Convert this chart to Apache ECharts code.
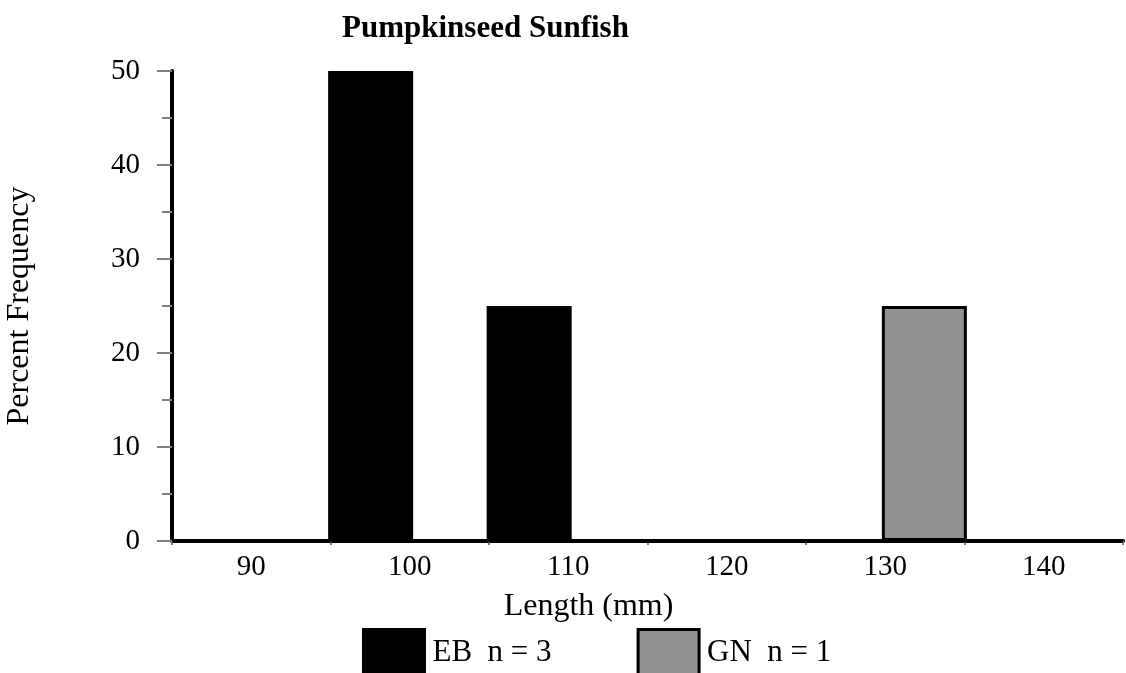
<!DOCTYPE html>
<html>
<head>
<meta charset="utf-8">
<script src="https://cdn.jsdelivr.net/npm/echarts@6/dist/echarts.min.js"></script>
<style>html,body{margin:0;padding:0;background:#fff}#c{width:1126px;height:673px}</style>
</head>
<body>
<div id="c"></div>
<script>
const categories = ['90', '100', '110', '120', '130', '140'];
const seriesNames = ['EB', 'GN'];
const nCounts = [3, 1];
const ebValues = [0, 50, 25, 0, 0, 0];
const gnValues = [0, 0, 0, 0, 25, 0];
const yTicks = [0, 10, 20, 30, 40, 50];

const font = '"Liberation Serif", "Times New Roman", serif';
const chart = echarts.init(document.getElementById('c'));
chart.setOption({
  animation: false,
  backgroundColor: '#fff',
  title: {
    text: 'Pumpkinseed Sunfish',
    left: 337, top: 8,
    textStyle: { fontFamily: font, fontWeight: 'bold', fontSize: 31, color: '#000' }
  },
  legend: {
    left: 357, top: 623,
    itemWidth: 61, itemHeight: 46, itemGap: 85,
    icon: 'rect',
    itemStyle: { borderColor: '#000', borderWidth: 3 },
    textStyle: { fontFamily: font, fontSize: 31, color: '#000', padding: [0, 0, 6, 3] },
    formatter: function (name) {
      const i = seriesNames.indexOf(name);
      return name + '  n = ' + nCounts[i];
    }
  },
  grid: { left: 172, right: 3, top: 71, bottom: 132, outerBoundsMode: 'none', containLabel: false },
  xAxis: {
    type: 'category',
    data: categories,
    name: 'Length (mm)',
    nameLocation: 'middle',
    nameGap: 50,
    nameTextStyle: { fontFamily: font, fontSize: 32, color: '#000', padding: [0, 118, 0, 0] },
    axisLine: { lineStyle: { color: '#000', width: 4 } },
    axisTick: { show: true, length: 4, lineStyle: { color: '#808080', width: 2 } },
    axisLabel: { fontFamily: font, fontSize: 29, color: '#000', margin: 12 }
  },
  yAxis: {
    type: 'value',
    min: yTicks[0], max: yTicks[yTicks.length - 1], interval: 10,
    name: 'Percent Frequency',
    nameLocation: 'middle',
    nameRotate: 90,
    nameGap: 136,
    nameTextStyle: { fontFamily: font, fontSize: 32, color: '#000' },
    axisLine: { show: true, lineStyle: { color: '#000', width: 4 } },
    axisTick: { show: true, length: 15, lineStyle: { color: '#808080', width: 2 } },
    minorTick: { show: true, splitNumber: 2, length: 10, lineStyle: { color: '#808080', width: 2 } },
    splitLine: { show: false },
    axisLabel: { fontFamily: font, fontSize: 29, color: '#000', margin: 32 }
  },
  series: [
    {
      name: seriesNames[0], type: 'bar', data: ebValues,
      barWidth: 85, barGap: '-8%',
      itemStyle: { color: '#000', borderColor: '#000', borderWidth: 3 }
    },
    {
      name: seriesNames[1], type: 'bar', data: gnValues,
      barWidth: 85, barGap: '-8%',
      itemStyle: { color: '#919191', borderColor: '#000', borderWidth: 3 }
    }
  ]
});
</script>
</body>
</html>
